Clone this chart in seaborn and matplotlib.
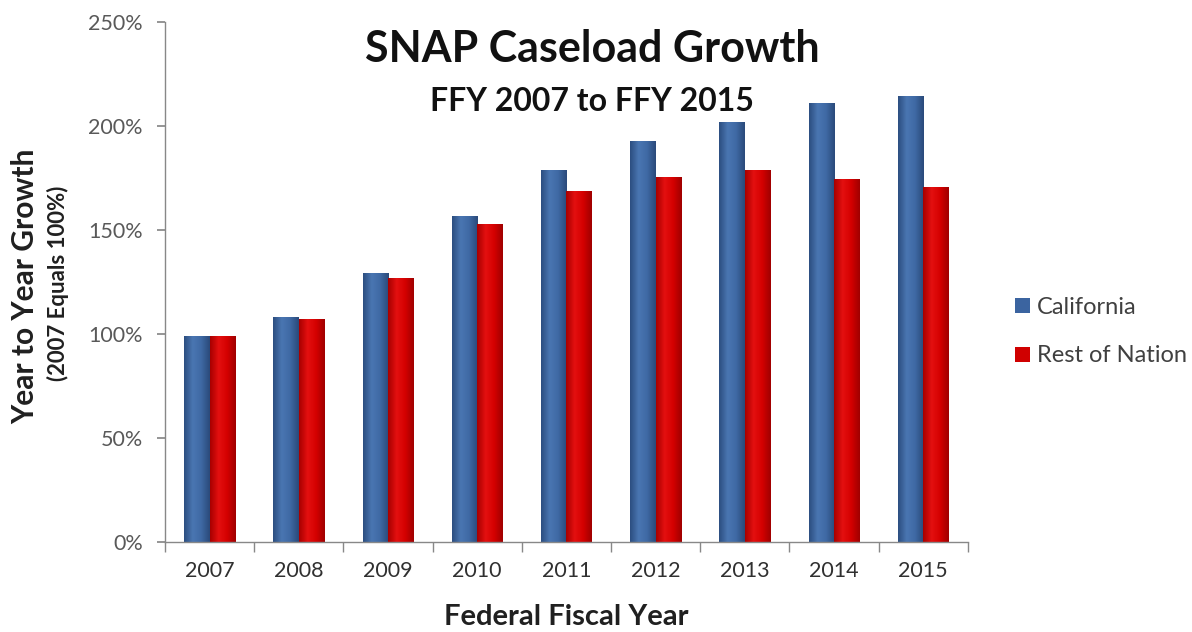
import matplotlib
matplotlib.use("Agg")
import matplotlib.pyplot as plt
import seaborn as sns
import pandas as pd
import numpy as np
from matplotlib.ticker import FuncFormatter, FixedLocator
from matplotlib.colors import LinearSegmentedColormap
from matplotlib.patches import Rectangle

years = ["2007", "2008", "2009", "2010", "2011", "2012", "2013", "2014", "2015"]
california = [99, 108, 129.5, 157, 179, 193, 202, 211, 214.5]
rest_of_nation = [99, 107, 127, 153, 169, 175.5, 179, 174.5, 170.5]
series = ["California", "Rest of Nation"]
colors = ["#3B64A0", "#D00000"]
shades = {
    "California": ["#2C4E80", "#4A76B2", "#3F69A4", "#2A4A7A"],
    "Rest of Nation": ["#A80000", "#E41010", "#D40000", "#A00000"],
}

df = pd.DataFrame({
    "year": years * 2,
    "value": california + rest_of_nation,
    "series": [series[0]] * len(years) + [series[1]] * len(years),
})

sns.set_theme(style="white")
plt.rcParams["font.family"] = ["Lato", "DejaVu Sans"]

fig = plt.figure(figsize=(11.92, 6.32), dpi=100)
ax = fig.add_axes([0.1384, 0.1424, 0.812 - 0.1384, 0.965 - 0.1424])

sns.barplot(data=df, x="year", y="value", hue="series", order=years,
            hue_order=series, palette=colors, width=0.57, ax=ax,
            saturation=1, legend=True, linewidth=0)

# cylinder-like shading over each bar
bars = [p for p in ax.patches if isinstance(p, Rectangle) and p.get_height() > 0]
n = len(years)
for i, p in enumerate(bars[:2 * n]):
    name = series[i // n]
    cmap = LinearSegmentedColormap.from_list(name, shades[name])
    x0, y0 = p.get_x(), p.get_y()
    w, h = p.get_width(), p.get_height()
    grad = np.linspace(0, 1, 64).reshape(1, -1)
    im = ax.imshow(grad, extent=[x0, x0 + w, y0, y0 + h], cmap=cmap,
                   aspect="auto", zorder=p.get_zorder() + 0.1,
                   interpolation="bicubic")
    im.set_clip_path(p)
ax.set_xlim(-0.5, len(years) - 0.5)
ax.set_ylim(0, 250)

ax.yaxis.set_major_locator(FixedLocator([0, 50, 100, 150, 200, 250]))
ax.yaxis.set_major_formatter(FuncFormatter(lambda v, p: f"{int(v)}%"))
ax.tick_params(axis="y", labelsize=15.5, labelcolor="#595959", length=6,
               color="#888888", direction="out", left=True, pad=10)
ax.tick_params(axis="x", which="major", labelsize=15.5, labelcolor="#303030",
               length=0, pad=14)
ax.set_xticks([i + 0.5 for i in range(-1, len(years))], minor=True)
ax.tick_params(axis="x", which="minor", length=7, color="#888888",
               direction="out", bottom=True)

for s in ["top", "right"]:
    ax.spines[s].set_visible(False)
for s in ["left", "bottom"]:
    ax.spines[s].set_color("#888888")
    ax.spines[s].set_linewidth(1.0)

ax.set_xlabel("Federal Fiscal Year", fontsize=21, fontweight="bold",
              color="#202020", labelpad=16)
ax.set_ylabel("")
fig.text(0.021, 0.547, "Year to Year Growth", rotation=90, fontsize=21.5,
         fontweight="bold", color="#202020", ha="center", va="center")
fig.text(0.049, 0.552, "(2007 Equals 100%)", rotation=90, fontsize=16,
         fontweight="bold", color="#202020", ha="center", va="center")

fig.text(0.497, 0.922, "SNAP Caseload Growth", fontsize=31,
         fontweight="bold", color="#111111", ha="center", va="center")
fig.text(0.497, 0.84, "FFY 2007 to FFY 2015", fontsize=23,
         fontweight="bold", color="#111111", ha="center", va="center")

leg = ax.legend(loc="center left", bbox_to_anchor=(0.834, 0.475),
                bbox_transform=fig.transFigure, frameon=False,
                fontsize=17, handlelength=0.6, handleheight=0.6,
                handletextpad=0.3, labelspacing=1.15)
for t in leg.get_texts():
    t.set_color("#404040")

fig.savefig("out.png", dpi=100)
